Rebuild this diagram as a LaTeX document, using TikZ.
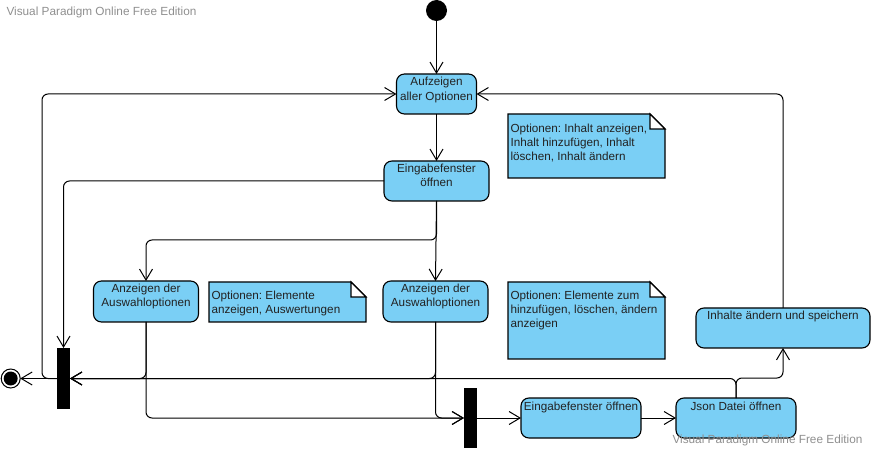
\documentclass[tikz,border=0pt]{standalone}
\usepackage{fontspec}
\setmainfont{Liberation Sans}
\usetikzlibrary{arrows.meta,calc}
\definecolor{actfill}{HTML}{7ACFF5}
\definecolor{wmgray}{HTML}{8F8F8F}
\definecolor{txtc}{HTML}{222222}
\begin{document}
\frenchspacing
\begin{tikzpicture}[x=1pt,y=-1pt,
  every node/.style={inner sep=0pt, outer sep=0pt},
  act/.style={draw=black, line width=1.1pt, fill=actfill, rounded corners=8pt, minimum height=40pt},
  lbl/.style={font=\fontsize{11.7}{14.2}\selectfont, align=center, anchor=base, text=txtc},
  ntxt/.style={font=\fontsize{11.7}{14.2}\selectfont, align=left, anchor=base west, text=txtc},
  wmt/.style={font=\fontsize{11.8}{14}\selectfont, anchor=base west, text=wmgray},
  notebox/.style={anchor=north west, minimum width=157pt},
  notestyle/.style={draw=black, line width=1.1pt, line join=miter},
  barstyle/.style={fill=black, minimum width=13pt},
  flow/.style={line width=1pt, rounded corners=6pt, -{Straight Barb[length=11pt,width=13pt]}}]
\useasboundingbox (0,0) rectangle (871,449);

% watermark texts
\node[wmt] (wm1) at (6.5,16) {Visual Paradigm Online Free Edition};

% start / end
\node[circle, fill=black, minimum size=21pt] (init) at (436.5,10.5) {};
\node[circle, draw=black, line width=1pt, fill=white, minimum size=19pt] (final) at (10.7,378.5) {};
\fill[black] (final.center) circle (7pt);

% activities (multi-line labels are placed by the baseline of their last line)
\node[act, minimum width=80pt] (aufz) at (436.5,94) {};
\node[lbl] (aufzT) at ([yshift=-26.2pt]aufz.north) {Aufzeigen\\aller Optionen};
\node[act, minimum width=105pt] (eing) at (436.5,181) {};
\node[lbl] (eingT) at ([yshift=-25.7pt]eing.north) {Eingabefenster\\öffnen};
\node[act, minimum width=105pt, minimum height=41pt] (anz1) at (146,301.5) {};
\node[lbl] (anz1T) at ([yshift=-25.7pt]anz1.north) {Anzeigen der\\Auswahloptionen};
\node[act, minimum width=105pt, minimum height=41pt] (anz2) at (435.5,301.5) {};
\node[lbl] (anz2T) at ([yshift=-25.7pt]anz2.north) {Anzeigen der\\Auswahloptionen};
\node[act, minimum width=120pt] (eing2) at (581,418) {};
\node[lbl] (eing2T) at ([yshift=-12pt]eing2.north) {Eingabefenster öffnen};
\node[act, minimum width=120pt] (json) at (736,418) {};
\node[lbl] (jsonT) at ([yshift=-12pt]json.north) {Json Datei öffnen};
\node[act, minimum width=174pt] (inh) at (783,328) {};
\node[lbl] (inhT) at ([yshift=-11.5pt]inh.north) {Inhalte ändern und speichern};

% bars
\node[barstyle, minimum height=61pt] (bar1) at (63.5,378.5) {};
\node[barstyle, minimum height=60pt] (bar2) at (470.5,418) {};

% notes
\node[notebox, minimum height=64pt] (note1) at (508,114) {};
\node[notebox, minimum height=40pt] (note2) at (209,282) {};
\node[notebox, minimum height=77pt] (note3) at (508,282) {};
\foreach \n in {note1,note2,note3}{
  \filldraw[notestyle, fill=actfill] (\n.north west) -- ([xshift=-15pt]\n.north east)
    -- ([yshift=-15pt]\n.north east) -- (\n.south east) -- (\n.south west) -- cycle;
  \filldraw[notestyle, fill=white] ([xshift=-15pt]\n.north east)
    -- ([xshift=-15pt,yshift=-15pt]\n.north east) -- ([yshift=-15pt]\n.north east) -- cycle;
}
\node[ntxt] (note1T) at (510.5,160.9) {Optionen: Inhalt anzeigen,\\Inhalt hinzufügen, Inhalt\\löschen, Inhalt ändern};
\node[ntxt] (note2T) at (211.5,313.7) {Optionen: Elemente\\anzeigen, Auswertungen};
\node[ntxt] (note3T) at (510.5,327.9) {Optionen: Elemente zum\\hinzufügen, löschen, ändern\\anzeigen};

% connectors
\draw[flow] (init.south) -- (aufz.north);
\draw[flow] (aufz.south) -- (eing.north);
\draw[flow] (eing.south) -- ++(0,39) -| (anz1.north);
\draw[flow] (eing.south) -- (anz2.north);
\draw[flow] (eing.west) -| (bar1.north);
\draw[flow] (anz1.south) |- (bar1.east);
\draw[flow] (anz1.south) |- (bar2.west);
\draw[flow] (anz2.south) |- (bar1.east);
\draw[flow] (anz2.south) |- (bar2.west);
\draw[flow] (bar2.east) -- (eing2.west);
\draw[flow] (eing2.east) -- (json.west);
\draw[flow] (json.north) |- (bar1.east);
\draw[flow] (json.north) -- ++(0,-20) -| (inh.south);
\draw[flow] (inh.north) |- (aufz.east);
\draw[flow] (bar1.west) -- (final.east);
\draw[flow] (bar1.west) -- ++(-15,0) |- (aufz.west);

\node[wmt] (wm2) at (672.5,443.5) {Visual Paradigm Online Free Edition};
\end{tikzpicture}
\end{document}
